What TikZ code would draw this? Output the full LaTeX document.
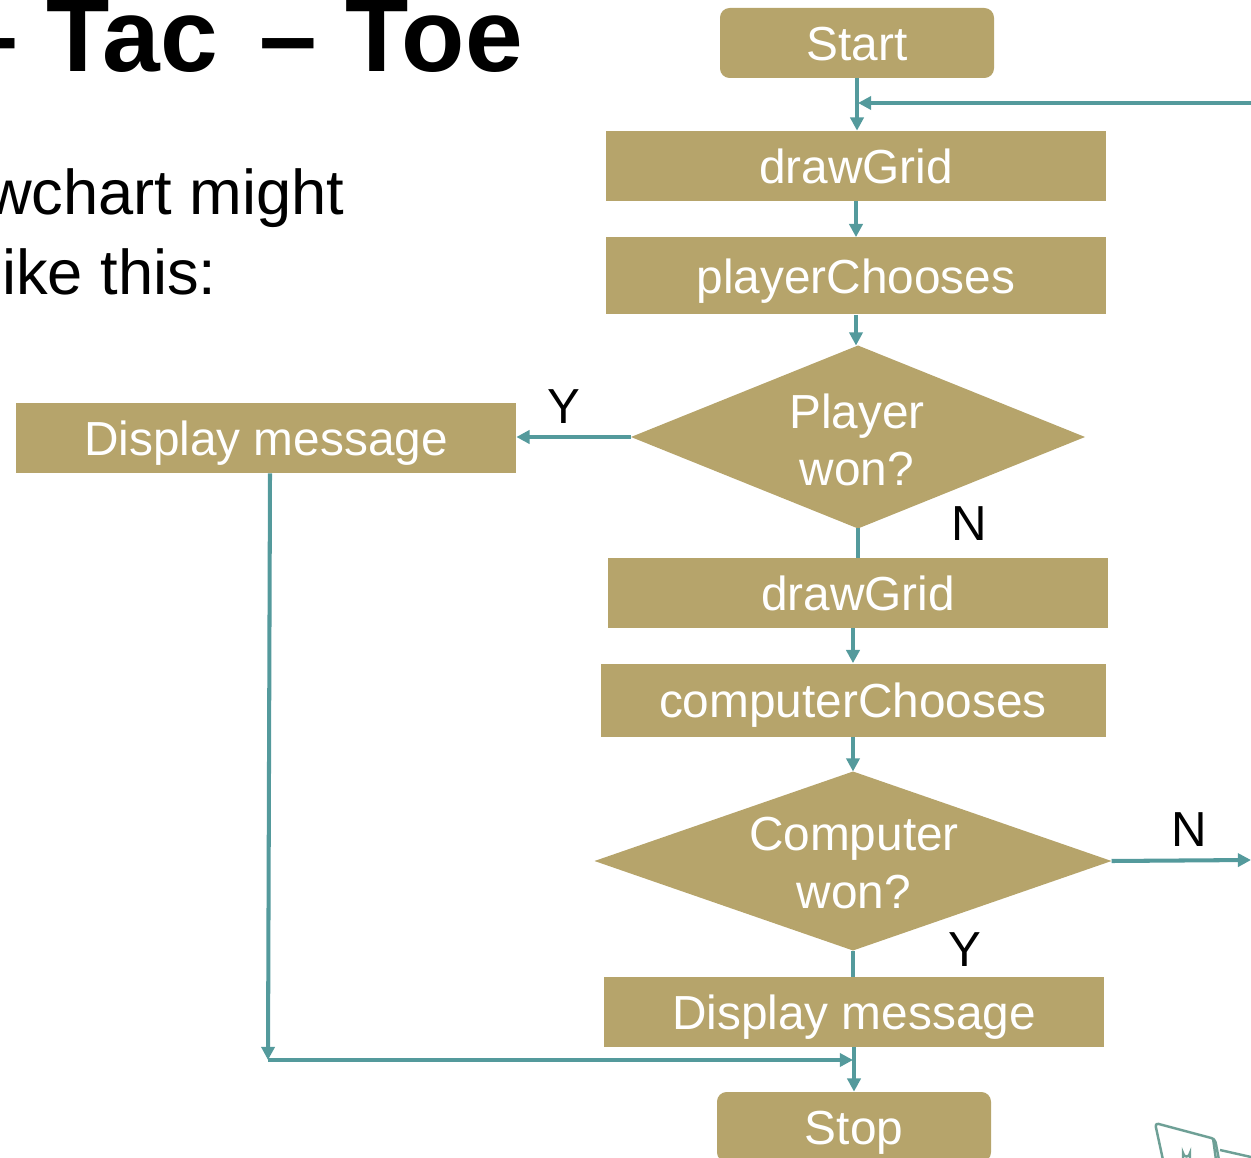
\documentclass[tikz,border=0pt]{standalone}
\usepackage{fontspec}
\setmainfont{Liberation Sans}
\usetikzlibrary{arrows.meta,shapes.geometric}
\definecolor{tan}{RGB}{182,164,107}
\definecolor{teal}{RGB}{84,154,156}
\definecolor{icon}{RGB}{110,160,150}
\tikzset{
  box/.style={fill=tan,draw=none,text=white,font=\fontsize{27.2}{32}\selectfont,inner sep=0pt,anchor=center,text height=19.5pt,text depth=0pt},
  rbox/.style={box,rounded corners=5.5pt},
  dia/.style={fill=tan,draw=none,diamond,inner sep=0pt,outer sep=0pt},
  diatext/.style={text=white,font=\fontsize{27.2}{32.5}\selectfont,inner sep=0pt,align=center},
  arr/.style={draw=teal,line width=2.3pt,-{Triangle[length=7.5pt,width=7.5pt]}},
  ln/.style={draw=teal,line width=2.3pt},
  lab/.style={font=\fontsize{28}{32}\selectfont,text=black,inner sep=0pt},
}
\begin{document}
\begin{tikzpicture}[x=0.02cm,y=-0.02cm]
\useasboundingbox (0,0) rectangle (1251,1158);
\clip (0,0) rectangle (1251,1158);
% slide text
\node[anchor=base east,inner sep=0pt,font=\fontsize{59}{60}\selectfont\bfseries] (title) at (523,72) {– Tac\hspace{0.26cm} – Toe};
\node[anchor=base east,inner sep=0pt,font=\fontsize{36}{40}\selectfont] (body1) at (345,215) {wchart might};
\node[anchor=base east,inner sep=0pt,font=\fontsize{36}{40}\selectfont] (body2) at (217,295) {ike this:};
% nodes
\node[rbox,minimum width=274*0.02cm,minimum height=70*0.02cm] (start) at (857,43) {Start};
\node[box,minimum width=500*0.02cm,minimum height=70*0.02cm] (dg1) at (856,166) {drawGrid};
\node[box,minimum width=500*0.02cm,minimum height=77*0.02cm] (pc) at (856,276) {playerChooses};
\node[dia,minimum width=454*0.02cm,minimum height=183*0.02cm] (pw) at (858,437) {};
\node[diatext] (pwt) at (857,440) {Player\\won?};
\node[box,minimum width=500*0.02cm,minimum height=70*0.02cm] (dm1) at (266,438) {Display message};
\node[box,minimum width=500*0.02cm,minimum height=70*0.02cm] (dg2) at (858,593) {drawGrid};
\node[box,minimum width=505*0.02cm,minimum height=73*0.02cm] (cc) at (853,700) {computerChooses};
\node[dia,minimum width=517*0.02cm,minimum height=179*0.02cm] (cw) at (853,861) {};
\node[diatext] (cwt) at (854,863) {Computer\\won?};
\node[box,minimum width=500*0.02cm,minimum height=70*0.02cm] (dm2) at (854,1012) {Display message};
\node[rbox,minimum width=274*0.02cm,minimum height=70*0.02cm] (stop) at (854,1127) {Stop};
% labels
\node[lab] (ly1) at (564,407) {Y};
\node[lab] (ln1) at (969,524) {N};
\node[lab] (ln2) at (1189,830) {N};
\node[lab] (ly2) at (965,950) {Y};
% coordinates
\coordinate (fbR) at (1251,103);
\coordinate (fbL) at (858,103);
\coordinate (nR) at (1251,860);
\coordinate (corner) at (268,1060);
\coordinate (join) at (853,1060);
% connectors
\draw[arr] (start.south) -- (start.south |- dg1.north);
\draw[arr] (fbR) -- (fbL);
\draw[arr] (dg1.south) -- (dg1.south |- pc.north);
\draw[arr] (pc.south) -- (pc.south |- pw.north);
\draw[arr] (pw.west) -- (dm1.east |- pw.west);
\draw[ln] (pw.south) -- (pw.south |- dg2.north);
\draw[arr] (dg2.south -| cc.north) -- (cc.north);
\draw[arr] (cc.south) -- (cw.north);
\draw[arr] (cw.east) -- (nR);
\draw[ln] (cw.south) -- (cw.south |- dm2.north);
\draw[arr] (dm2.south) -- (stop.north);
\draw[arr] (dm1.south -| 270,0) -- (corner);
\draw[arr] (corner) -- (join);
% partial icon
\draw[icon,line width=1.4pt,line join=round,rounded corners=2pt] (1163,1160) -- (1155,1123) -- (1215,1139) -- (1219,1160);
\draw[icon,line width=1.4pt] (1213,1138) -- (1216,1160);
\draw[icon,line width=1.4pt] (1220,1150) -- (1251,1157);
\draw[icon,line width=1.4pt] (1183,1160) -- (1183,1153) arc (180:0:3.5) -- (1190,1160);
\end{tikzpicture}
\end{document}
